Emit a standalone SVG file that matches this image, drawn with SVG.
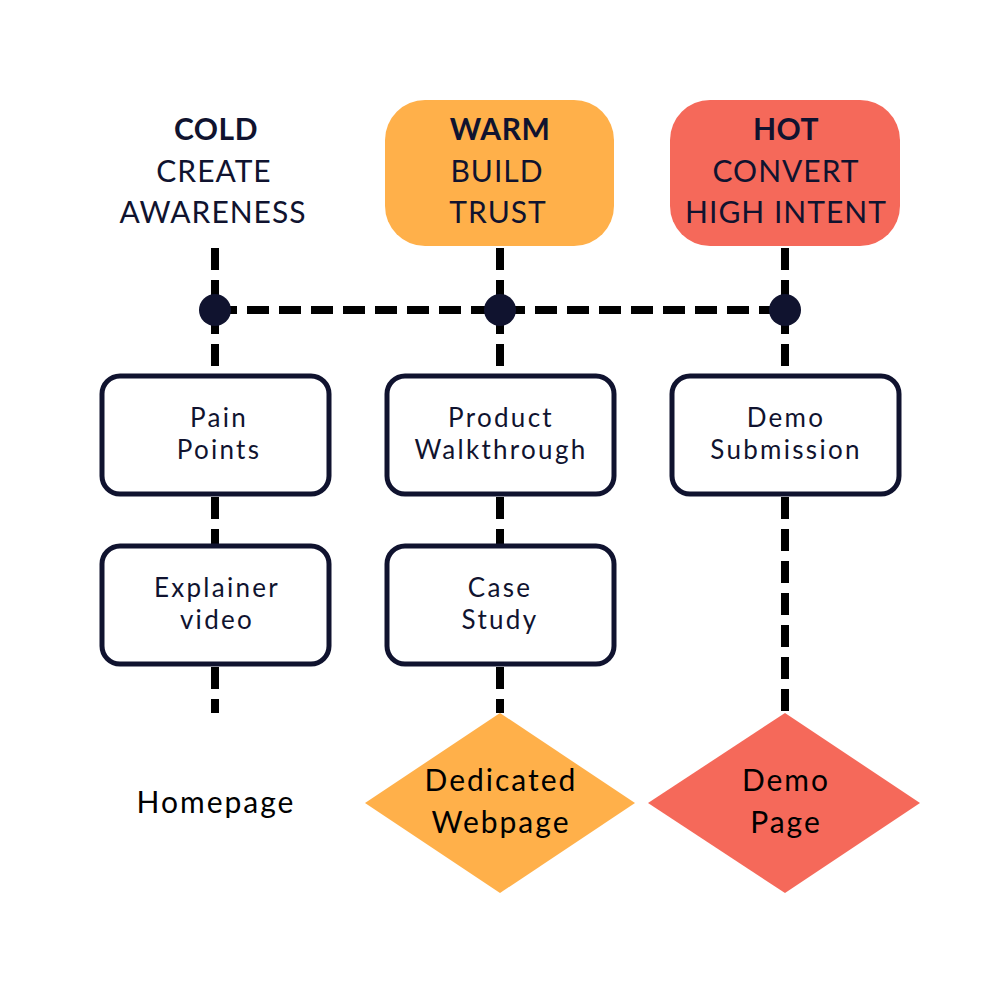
<svg xmlns="http://www.w3.org/2000/svg" width="1000" height="1000" viewBox="0 0 1000 1000">
<style>
.hdr{font-family:Lato,"Liberation Sans",sans-serif;font-size:30px;fill:#10132f;text-anchor:middle;letter-spacing:1px}
.b{font-weight:bold;letter-spacing:0.5px}
.box{fill:#fff;stroke:#10132f;stroke-width:5}
.bt{font-family:Lato,"Liberation Sans",sans-serif;font-size:26px;fill:#10132f;text-anchor:middle;letter-spacing:2.3px}
.dt{font-family:Lato,"Liberation Sans",sans-serif;font-size:30px;fill:#000;text-anchor:middle;letter-spacing:2px}
.dash{stroke:#000;stroke-width:8;stroke-dasharray:22 10;fill:none}
</style>
<rect width="1000" height="1000" fill="#fff"/>
<g id="connectors">
<line class="dash" x1="215" y1="248" x2="215" y2="375"/>
<line class="dash" x1="500" y1="248" x2="500" y2="375"/>
<line class="dash" x1="785" y1="248" x2="785" y2="375"/>
<line class="dash" x1="215" y1="310" x2="785" y2="310"/>
<line class="dash" x1="215" y1="497" x2="215" y2="545"/>
<line class="dash" x1="500" y1="497" x2="500" y2="545"/>
<line class="dash" x1="215" y1="667" x2="215" y2="713"/>
<line class="dash" x1="500" y1="667" x2="500" y2="713"/>
<line class="dash" x1="785" y1="497" x2="785" y2="713"/>
<circle cx="215" cy="310" r="16" fill="#10132f"/>
<circle cx="500" cy="310" r="16" fill="#10132f"/>
<circle cx="785" cy="310" r="16" fill="#10132f"/>
</g>
<g id="cold">
<text class="hdr b" x="216" y="140">COLD</text>
<text class="hdr" x="214" y="182">CREATE</text>
<text class="hdr" x="213" y="223">AWARENESS</text>
</g>
<g id="warm">
<rect x="385" y="100" width="229" height="146" rx="40" fill="#ffb04a"/>
<text class="hdr b" x="500" y="140">WARM</text>
<text class="hdr" x="497" y="182">BUILD</text>
<text class="hdr" x="498" y="223">TRUST</text>
</g>
<g id="hot">
<rect x="670" y="100" width="230" height="146" rx="40" fill="#f5695a"/>
<text class="hdr b" x="786" y="140">HOT</text>
<text class="hdr" x="786" y="182">CONVERT</text>
<text class="hdr" x="786" y="223">HIGH INTENT</text>
</g>
<g id="pain-points">
<rect class="box" x="102" y="376" width="227" height="118" rx="18"/>
<text class="bt" x="219" y="427">Pain</text>
<text class="bt" x="219" y="459">Points</text>
</g>
<g id="product-walkthrough">
<rect class="box" x="387" y="376" width="227" height="118" rx="18"/>
<text class="bt" x="501" y="427">Product</text>
<text class="bt" x="501" y="459">Walkthrough</text>
</g>
<g id="demo-submission">
<rect class="box" x="672" y="376" width="227" height="118" rx="18"/>
<text class="bt" x="786" y="427">Demo</text>
<text class="bt" x="786" y="459">Submission</text>
</g>
<g id="explainer-video">
<rect class="box" x="102" y="546" width="227" height="118" rx="18"/>
<text class="bt" x="217" y="597">Explainer</text>
<text class="bt" x="217" y="629">video</text>
</g>
<g id="case-study">
<rect class="box" x="387" y="546" width="227" height="118" rx="18"/>
<text class="bt" x="500" y="597">Case</text>
<text class="bt" x="500" y="629">Study</text>
</g>
<g id="homepage">
<text class="dt" x="216" y="813">Homepage</text>
</g>
<g id="dedicated-webpage">
<polygon points="500,713 635,803 500,893 365,803" fill="#ffb04a"/>
<text class="dt" x="501" y="791">Dedicated</text>
<text class="dt" x="501" y="833">Webpage</text>
</g>
<g id="demo-page">
<polygon points="785,713 920,803 785,893 648,803" fill="#f5695a"/>
<text class="dt" x="786" y="791">Demo</text>
<text class="dt" x="786" y="833">Page</text>
</g>
</svg>
